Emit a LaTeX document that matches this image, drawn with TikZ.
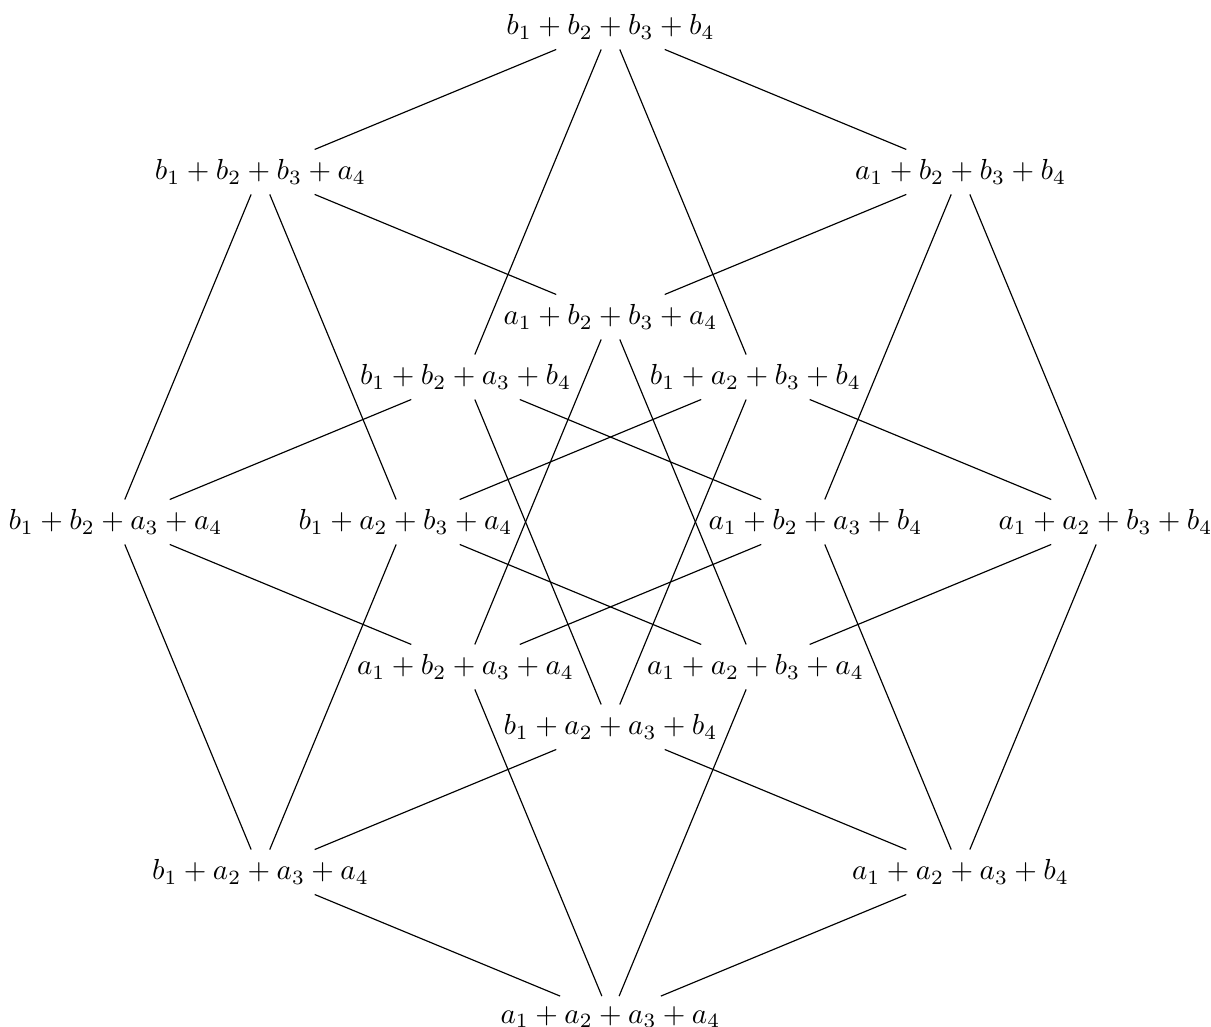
\documentclass[tikz,border=0pt]{standalone}
\usepackage{amsmath}
\usepackage{tikz}
\tikzset{
  term/.style={inner sep=3.33pt, font=\normalsize},
  link/.style={line width=0.4pt, draw=black},
}

\begin{document}
\begin{tikzpicture}
\useasboundingbox (-7.4,-6.121) rectangle (7.279,6.327);
% vertices of the 4-cube
\node[term] (bbbb) at (0,6) {$b_1+b_2+b_3+b_4$};
\node[term] (bbba) at (-4.243,4.243) {$b_1+b_2+b_3+a_4$};
\node[term] (abbb) at (4.243,4.243) {$a_1+b_2+b_3+b_4$};
\node[term] (abba) at (0,2.485) {$a_1+b_2+b_3+a_4$};
\node[term] (bbab) at (-1.757,1.757) {$b_1+b_2+a_3+b_4$};
\node[term] (babb) at (1.757,1.757) {$b_1+a_2+b_3+b_4$};
\node[term] (bbaa) at (-6,0) {$b_1+b_2+a_3+a_4$};
\node[term] (baba) at (-2.485,0) {$b_1+a_2+b_3+a_4$};
\node[term] (abab) at (2.485,0) {$a_1+b_2+a_3+b_4$};
\node[term] (aabb) at (6,0) {$a_1+a_2+b_3+b_4$};
\node[term] (abaa) at (-1.757,-1.757) {$a_1+b_2+a_3+a_4$};
\node[term] (aaba) at (1.757,-1.757) {$a_1+a_2+b_3+a_4$};
\node[term] (baab) at (0,-2.485) {$b_1+a_2+a_3+b_4$};
\node[term] (baaa) at (-4.243,-4.243) {$b_1+a_2+a_3+a_4$};
\node[term] (aaab) at (4.243,-4.243) {$a_1+a_2+a_3+b_4$};
\node[term] (aaaa) at (0,-6) {$a_1+a_2+a_3+a_4$};
% edges
\draw[link] (bbbb) -- (abbb);
\draw[link] (bbbb) -- (babb);
\draw[link] (bbbb) -- (bbab);
\draw[link] (bbbb) -- (bbba);
\draw[link] (bbba) -- (abba);
\draw[link] (bbba) -- (baba);
\draw[link] (bbba) -- (bbaa);
\draw[link] (abbb) -- (aabb);
\draw[link] (abbb) -- (abab);
\draw[link] (abbb) -- (abba);
\draw[link] (babb) -- (aabb);
\draw[link] (babb) -- (baab);
\draw[link] (babb) -- (baba);
\draw[link] (bbab) -- (abab);
\draw[link] (bbab) -- (baab);
\draw[link] (bbab) -- (bbaa);
\draw[link] (abba) -- (aaba);
\draw[link] (abba) -- (abaa);
\draw[link] (bbaa) -- (abaa);
\draw[link] (bbaa) -- (baaa);
\draw[link] (baba) -- (aaba);
\draw[link] (baba) -- (baaa);
\draw[link] (abab) -- (aaab);
\draw[link] (abab) -- (abaa);
\draw[link] (aabb) -- (aaab);
\draw[link] (aabb) -- (aaba);
\draw[link] (baab) -- (aaab);
\draw[link] (baab) -- (baaa);
\draw[link] (aaba) -- (aaaa);
\draw[link] (abaa) -- (aaaa);
\draw[link] (baaa) -- (aaaa);
\draw[link] (aaab) -- (aaaa);
\end{tikzpicture}
\end{document}
